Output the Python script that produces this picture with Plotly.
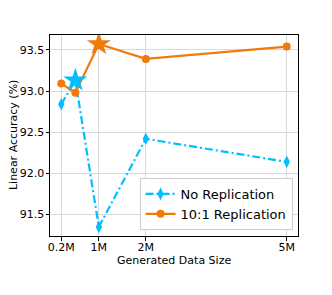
import plotly.graph_objects as go

sizes = [0.2, 0.5, 1, 2, 5]
no_rep = [92.84, 93.13, 91.35, 92.42, 92.14]
rep_10 = [93.09, 92.98, 93.57, 93.39, 93.54]
tick_vals = [0.2, 1, 2, 5]
tick_text = ["0.2M", "1M", "2M", "5M"]
y_ticks = [91.5, 92.0, 92.5, 93.0, 93.5]

blue = "#00BFFF"
orange = "#F07A0A"

best_no = max(range(len(no_rep)), key=lambda i: no_rep[i])
best_rep = max(range(len(rep_10)), key=lambda i: rep_10[i])

fig = go.Figure()
fig.add_trace(go.Scatter(
    x=sizes, y=no_rep, name="No Replication", mode="lines+markers",
    line=dict(color=blue, width=2.2, dash="8px,3px,2px,3px"),
    marker=dict(color=blue, symbol="diamond-tall", size=9, line=dict(width=0)),
))
fig.add_trace(go.Scatter(
    x=sizes, y=rep_10, name="10:1 Replication", mode="lines+markers",
    line=dict(color=orange, width=2.2),
    marker=dict(color=orange, symbol="circle", size=8, line=dict(width=0)),
))
fig.add_trace(go.Scatter(
    x=[sizes[best_no]], y=[no_rep[best_no]], mode="markers", showlegend=False,
    marker=dict(color=blue, symbol="star", size=18, line=dict(width=0)),
))
fig.add_trace(go.Scatter(
    x=[sizes[best_rep]], y=[rep_10[best_rep]], mode="markers", showlegend=False,
    marker=dict(color=orange, symbol="star", size=18, line=dict(width=0)),
))

font = dict(family="DejaVu Sans", size=11, color="black")
fig.update_layout(
    width=324, height=287,
    margin=dict(l=41.5, r=34, t=27, b=59, autoexpand=False),
    paper_bgcolor="white", plot_bgcolor="white",
    font=font,
    showlegend=True,
    legend=dict(x=0.978, y=0.03, xanchor="right", yanchor="bottom",
                bgcolor="rgba(255,255,255,0.9)", bordercolor="#cccccc", borderwidth=1,
                font=dict(family="DejaVu Sans", size=13, color="black"), tracegroupgap=0,
                itemwidth=30),
    annotations=[
        dict(text="Generated Data Size", xref="paper", yref="paper", x=0.5, y=-0.122,
             xanchor="center", yanchor="middle", showarrow=False, font=font),
        dict(text="Linear Accuracy (%)", xref="paper", yref="paper", x=-0.147, y=0.5,
             xanchor="center", yanchor="middle", textangle=-90, showarrow=False, font=font),
    ],
)
fig.update_xaxes(
    range=[-0.04, 5.24], tickvals=tick_vals, ticktext=tick_text,
    showgrid=True, gridcolor="#d9d9d9", gridwidth=1,
    showline=True, linecolor="black", linewidth=1, mirror=True,
    ticks="outside", ticklen=3.5, tickcolor="black", ticklabelstandoff=-3,
    zeroline=False, automargin=False,
)
fig.update_yaxes(
    range=[91.24, 93.68], tickvals=y_ticks, ticktext=[f"{v:.1f}" for v in y_ticks],
    showgrid=True, gridcolor="#d9d9d9", gridwidth=1,
    showline=True, linecolor="black", linewidth=1, mirror=True,
    ticks="outside", ticklen=3.5, tickcolor="black", ticklabelstandoff=-1,
    zeroline=False, automargin=False,
)
fig.write_html("out.html")
